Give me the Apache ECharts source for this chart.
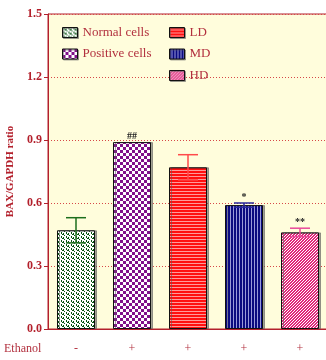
<!DOCTYPE html>
<html>
<head>
<meta charset="utf-8">
<script src="https://cdn.jsdelivr.net/npm/echarts@6/dist/echarts.min.js"></script>
<style>
html,body{margin:0;padding:0;background:#fff;}
#chart{width:326px;height:360px;}
</style>
</head>
<body>
<div id="chart"></div>
<script>
// Groups, ethanol treatment and BAX/GAPDH values
const groups = ['Normal cells', 'Positive cells', 'LD', 'MD', 'HD'];
const ethanol = ['-', '+', '+', '+', '+'];
const means = [0.47, 0.89, 0.77, 0.59, 0.46];
const errors = [0.06, 0, 0.06, 0.01, 0.02];
const marks = ['', '##', '', '*', '**'];
const yTicks = [0, 0.3, 0.6, 0.9, 1.2, 1.5];

const axisRed = '#b3202c';
const textRed = '#b2303e';
const serif = '"Liberation Serif", "DejaVu Serif", serif';

// Small repeating tiles used as bar fills
function tile(w, h, draw) {
  const c = document.createElement('canvas');
  c.width = w; c.height = h;
  const g = c.getContext('2d');
  draw(g);
  return { image: c, repeat: 'repeat' };
}
const fills = [
  tile(5, 4, g => {
    g.fillStyle = '#ffffff'; g.fillRect(0, 0, 5, 4);
    g.fillStyle = '#06520f';
    g.fillRect(1, 0, 1, 2); g.fillRect(2, 2, 1, 1);
    g.fillRect(3, 1, 1, 2); g.fillRect(4, 3, 1, 1);
  }),
  tile(6, 6, g => {
    g.fillStyle = '#ffffff'; g.fillRect(0, 0, 6, 6);
    g.fillStyle = '#80108a';
    g.fillRect(0, 0, 3, 3); g.fillRect(3, 3, 3, 3);
  }),
  tile(3, 3, g => {
    g.fillStyle = '#ff1010'; g.fillRect(0, 0, 3, 3);
    g.fillStyle = '#ff9a9a'; g.fillRect(0, 2, 3, 1);
  }),
  tile(3, 3, g => {
    g.fillStyle = '#0a0a80'; g.fillRect(0, 0, 3, 3);
    g.fillStyle = '#9a9ad8'; g.fillRect(2, 0, 1, 3);
  }),
  tile(3, 3, g => {
    g.fillStyle = '#ffffff'; g.fillRect(0, 0, 3, 3);
    g.fillStyle = '#e0287a';
    for (let i = 0; i < 3; i++) { g.fillRect(i, 2 - i, 1, 1); g.fillRect((i + 1) % 3, 2 - i, 1, 1); }
  })
];
const errColors = ['#1c6e1c', '#80108a', '#ff4a4a', '#28289a', '#e8489a'];

const barSeries = groups.map((name, i) => ({
  name: name,
  type: 'bar',
  barWidth: 38,
  barGap: '-100%',
  data: groups.map((_, j) => (j === i ? means[i] : '-')),
  itemStyle: {
    color: fills[i],
    borderColor: '#111',
    borderWidth: 1,
    shadowColor: 'rgba(90,90,90,0.55)',
    shadowOffsetX: 2,
    shadowOffsetY: 0,
    shadowBlur: 0
  },
  z: 2
}));

const errSeries = {
  type: 'custom',
  z: 5,
  data: groups.map((_, i) => [i, means[i], errors[i]]),
  renderItem: function (params, api) {
    const i = api.value(0);
    const m = api.value(1);
    const e = api.value(2);
    const top = api.coord([i, m + e]);
    const bot = api.coord([i, m - e]);
    const children = [];
    const col = errColors[i];
    if (e > 0) {
      const half = 10;
      children.push(
        { type: 'line', shape: { x1: top[0], y1: top[1], x2: bot[0], y2: bot[1] }, style: { stroke: col, lineWidth: 1.5 } },
        { type: 'line', shape: { x1: top[0] - half, y1: top[1], x2: top[0] + half, y2: top[1] }, style: { stroke: col, lineWidth: 1.5 } },
        { type: 'line', shape: { x1: bot[0] - half, y1: bot[1], x2: bot[0] + half, y2: bot[1] }, style: { stroke: col, lineWidth: 1.5 } }
      );
    }
    if (marks[i]) {
      children.push({
        type: 'text',
        style: {
          text: marks[i], x: top[0], y: top[1] - 1,
          align: 'center', verticalAlign: 'bottom',
          font: 'bold 10px ' + serif, fill: '#222'
        }
      });
    }
    return { type: 'group', children: children };
  }
};

const legendText = { color: textRed, fontFamily: serif, fontSize: 13, lineHeight: 12 };
const legendItem = { borderColor: '#111', borderWidth: 1, shadowColor: 'rgba(90,90,90,0.5)', shadowOffsetX: 1, shadowOffsetY: 1, shadowBlur: 0 };

const chart = echarts.init(document.getElementById('chart'), null, { renderer: 'canvas' });
chart.setOption({
  animation: false,
  backgroundColor: '#ffffff',
  grid: {
    left: 48, right: -2, top: 14, bottom: 31,
    outerBoundsMode: 'none', containLabel: false,
    show: true, backgroundColor: '#fffddc', borderColor: axisRed, borderWidth: 1
  },
  legend: [
    {
      data: groups.slice(0, 2), orient: 'vertical', left: 57, top: 21,
      icon: 'rect', itemWidth: 15, itemHeight: 10, itemGap: 8.5, textStyle: legendText,
      itemStyle: legendItem
    },
    {
      data: groups.slice(2), orient: 'vertical', left: 164, top: 21,
      icon: 'rect', itemWidth: 15, itemHeight: 10, itemGap: 8.5, textStyle: legendText,
      itemStyle: legendItem
    }
  ],
  xAxis: {
    type: 'category',
    data: groups,
    axisLine: { lineStyle: { color: axisRed, width: 1 } },
    axisTick: { alignWithLabel: true, length: 5, lineStyle: { color: '#d05050' } },
    axisLabel: {
      formatter: (v, idx) => ethanol[idx],
      color: textRed, fontFamily: serif, fontSize: 12, margin: 14
    },
    splitLine: { show: false }
  },
  yAxis: {
    type: 'value',
    min: yTicks[0], max: yTicks[yTicks.length - 1], interval: 0.3,
    name: 'BAX/GAPDH ratio',
    nameLocation: 'middle',
    nameGap: 29,
    nameTextStyle: { color: axisRed, fontFamily: serif, fontWeight: 'bold', fontSize: 11 },
    axisLine: { show: true, lineStyle: { color: axisRed, width: 1 } },
    axisTick: { show: true, length: 4, lineStyle: { color: axisRed } },
    axisLabel: {
      formatter: v => v.toFixed(1),
      color: axisRed, fontFamily: serif, fontWeight: 'bold', fontSize: 12, margin: 6
    },
    splitLine: { lineStyle: { color: '#d64848', type: [1, 2], width: 1 } }
  },
  graphic: [{
    type: 'text', left: 4, top: 343,
    style: { text: 'Ethanol', font: '12px ' + serif, fill: textRed }
  }],
  series: barSeries.concat([errSeries])
});
</script>
</body>
</html>
